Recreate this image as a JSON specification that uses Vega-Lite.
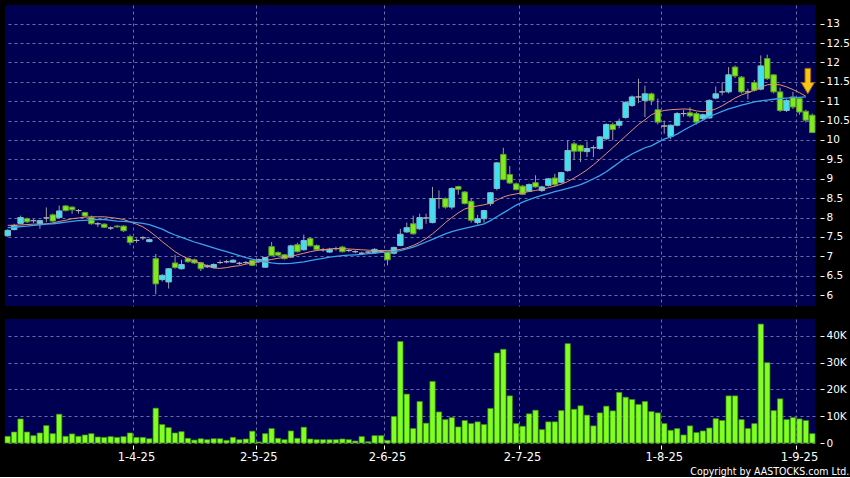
{
  "$schema": "https://vega.github.io/schema/vega-lite/v6.json",
  "background": "#000000",
  "padding": {"left": 4, "top": 5, "right": 0, "bottom": 0},
  "title": {"text": "Copyright by AASTOCKS.com Ltd.", "orient": "bottom", "anchor": "end", "frame": "bounds", "color": "#ffffff", "font": "DejaVu Sans Condensed, DejaVu Sans", "fontSize": 10.5, "fontWeight": "normal", "offset": 4},
  "datasets": {
    "bars": [
      {"date":"4-3-25","open":7.53,"high":7.70,"low":7.50,"close":7.67,"volume":2500,"ma10":7.80,"ma20":7.74},
      {"date":"5-3-25","open":7.69,"high":7.84,"low":7.67,"close":7.80,"volume":4100,"ma10":7.80,"ma20":7.75},
      {"date":"6-3-25","open":7.85,"high":8.05,"low":7.83,"close":8.00,"volume":9000,"ma10":7.81,"ma20":7.77},
      {"date":"7-3-25","open":7.97,"high":8.00,"low":7.86,"close":7.89,"volume":4100,"ma10":7.82,"ma20":7.78},
      {"date":"10-3-25","open":7.92,"high":7.96,"low":7.86,"close":7.92,"volume":2750,"ma10":7.83,"ma20":7.80},
      {"date":"11-3-25","open":7.85,"high":7.94,"low":7.71,"close":7.92,"volume":3750,"ma10":7.83,"ma20":7.81},
      {"date":"12-3-25","open":7.99,"high":8.26,"low":7.88,"close":7.99,"volume":6500,"ma10":7.84,"ma20":7.83},
      {"date":"13-3-25","open":8.07,"high":8.10,"low":7.88,"close":7.91,"volume":3500,"ma10":7.86,"ma20":7.84},
      {"date":"14-3-25","open":8.00,"high":8.31,"low":7.97,"close":8.17,"volume":10750,"ma10":7.90,"ma20":7.86},
      {"date":"17-3-25","open":8.30,"high":8.32,"low":8.16,"close":8.18,"volume":2500,"ma10":7.93,"ma20":7.88},
      {"date":"18-3-25","open":8.27,"high":8.29,"low":8.10,"close":8.20,"volume":3400,"ma10":7.97,"ma20":7.90},
      {"date":"19-3-25","open":8.18,"high":8.22,"low":8.10,"close":8.18,"volume":2500,"ma10":7.99,"ma20":7.92},
      {"date":"20-3-25","open":8.13,"high":8.15,"low":8.02,"close":8.04,"volume":3000,"ma10":8.01,"ma20":7.93},
      {"date":"21-3-25","open":8.00,"high":8.05,"low":7.82,"close":7.84,"volume":3500,"ma10":8.02,"ma20":7.94},
      {"date":"24-3-25","open":7.84,"high":7.88,"low":7.76,"close":7.84,"volume":2250,"ma10":8.02,"ma20":7.95},
      {"date":"25-3-25","open":7.83,"high":7.85,"low":7.73,"close":7.75,"volume":2100,"ma10":8.02,"ma20":7.95},
      {"date":"26-3-25","open":7.73,"high":7.77,"low":7.68,"close":7.73,"volume":2400,"ma10":8.00,"ma20":7.93},
      {"date":"27-3-25","open":7.78,"high":7.81,"low":7.74,"close":7.76,"volume":2100,"ma10":7.98,"ma20":7.91},
      {"date":"28-3-25","open":7.78,"high":7.80,"low":7.63,"close":7.66,"volume":2400,"ma10":7.95,"ma20":7.90},
      {"date":"31-3-25","open":7.51,"high":7.56,"low":7.29,"close":7.36,"volume":3750,"ma10":7.89,"ma20":7.89},
      {"date":"1-4-25","open":7.41,"high":7.46,"low":7.35,"close":7.41,"volume":2100,"ma10":7.83,"ma20":7.87},
      {"date":"2-4-25","open":7.48,"high":7.52,"low":7.42,"close":7.48,"volume":2100,"ma10":7.76,"ma20":7.85},
      {"date":"3-4-25","open":7.38,"high":7.46,"low":7.36,"close":7.43,"volume":1600,"ma10":7.65,"ma20":7.82},
      {"date":"7-4-25","open":6.94,"high":7.06,"low":6.02,"close":6.29,"volume":13000,"ma10":7.52,"ma20":7.76},
      {"date":"8-4-25","open":6.40,"high":6.54,"low":6.35,"close":6.51,"volume":6900,"ma10":7.38,"ma20":7.70},
      {"date":"9-4-25","open":6.34,"high":6.70,"low":6.17,"close":6.68,"volume":5750,"ma10":7.25,"ma20":7.62},
      {"date":"10-4-25","open":6.83,"high":7.04,"low":6.68,"close":6.71,"volume":3750,"ma10":7.12,"ma20":7.55},
      {"date":"11-4-25","open":6.68,"high":6.91,"low":6.66,"close":6.79,"volume":4250,"ma10":7.02,"ma20":7.49},
      {"date":"14-4-25","open":6.94,"high":6.97,"low":6.84,"close":6.86,"volume":1750,"ma10":6.94,"ma20":7.43},
      {"date":"15-4-25","open":6.91,"high":6.94,"low":6.80,"close":6.83,"volume":1100,"ma10":6.88,"ma20":7.37},
      {"date":"16-4-25","open":6.84,"high":6.86,"low":6.62,"close":6.68,"volume":1600,"ma10":6.82,"ma20":7.32},
      {"date":"17-4-25","open":6.73,"high":6.79,"low":6.70,"close":6.76,"volume":1250,"ma10":6.76,"ma20":7.27},
      {"date":"22-4-25","open":6.71,"high":6.82,"low":6.69,"close":6.79,"volume":1600,"ma10":6.70,"ma20":7.22},
      {"date":"23-4-25","open":6.84,"high":6.90,"low":6.80,"close":6.84,"volume":1600,"ma10":6.69,"ma20":7.17},
      {"date":"24-4-25","open":6.86,"high":6.91,"low":6.82,"close":6.86,"volume":1000,"ma10":6.71,"ma20":7.12},
      {"date":"25-4-25","open":6.85,"high":6.92,"low":6.83,"close":6.90,"volume":2100,"ma10":6.74,"ma20":7.07},
      {"date":"28-4-25","open":6.82,"high":6.86,"low":6.78,"close":6.82,"volume":1250,"ma10":6.76,"ma20":7.02},
      {"date":"29-4-25","open":6.84,"high":6.88,"low":6.80,"close":6.84,"volume":1500,"ma10":6.80,"ma20":6.97},
      {"date":"30-4-25","open":6.90,"high":6.92,"low":6.75,"close":6.77,"volume":4400,"ma10":6.83,"ma20":6.93},
      {"date":"2-5-25","open":6.86,"high":6.94,"low":6.84,"close":6.92,"volume":400,"ma10":6.86,"ma20":6.89},
      {"date":"6-5-25","open":6.72,"high":6.99,"low":6.70,"close":6.97,"volume":3500,"ma10":6.89,"ma20":6.86},
      {"date":"7-5-25","open":7.25,"high":7.37,"low":7.00,"close":7.02,"volume":5400,"ma10":6.92,"ma20":6.83},
      {"date":"8-5-25","open":7.10,"high":7.13,"low":7.00,"close":7.03,"volume":1750,"ma10":6.95,"ma20":6.81},
      {"date":"9-5-25","open":7.04,"high":7.06,"low":6.92,"close":6.94,"volume":1250,"ma10":6.97,"ma20":6.81},
      {"date":"12-5-25","open":6.98,"high":7.30,"low":6.96,"close":7.27,"volume":4500,"ma10":7.00,"ma20":6.82},
      {"date":"13-5-25","open":7.30,"high":7.35,"low":7.10,"close":7.12,"volume":1750,"ma10":7.04,"ma20":6.84},
      {"date":"14-5-25","open":7.17,"high":7.56,"low":7.15,"close":7.41,"volume":5900,"ma10":7.08,"ma20":6.86},
      {"date":"15-5-25","open":7.46,"high":7.49,"low":7.25,"close":7.27,"volume":1500,"ma10":7.12,"ma20":6.89},
      {"date":"16-5-25","open":7.28,"high":7.31,"low":7.15,"close":7.17,"volume":1250,"ma10":7.15,"ma20":6.92},
      {"date":"19-5-25","open":7.17,"high":7.22,"low":7.12,"close":7.17,"volume":1250,"ma10":7.17,"ma20":6.95},
      {"date":"20-5-25","open":7.11,"high":7.22,"low":7.09,"close":7.18,"volume":1250,"ma10":7.19,"ma20":6.98},
      {"date":"21-5-25","open":7.20,"high":7.25,"low":7.15,"close":7.20,"volume":1250,"ma10":7.20,"ma20":7.00},
      {"date":"22-5-25","open":7.24,"high":7.27,"low":7.10,"close":7.12,"volume":1500,"ma10":7.20,"ma20":7.02},
      {"date":"23-5-25","open":7.15,"high":7.19,"low":7.11,"close":7.15,"volume":1250,"ma10":7.19,"ma20":7.03},
      {"date":"26-5-25","open":7.12,"high":7.16,"low":7.08,"close":7.12,"volume":750,"ma10":7.18,"ma20":7.04},
      {"date":"27-5-25","open":7.08,"high":7.12,"low":7.04,"close":7.08,"volume":2400,"ma10":7.17,"ma20":7.05},
      {"date":"28-5-25","open":7.11,"high":7.14,"low":7.07,"close":7.11,"volume":500,"ma10":7.16,"ma20":7.07},
      {"date":"29-5-25","open":7.10,"high":7.21,"low":7.08,"close":7.18,"volume":2750,"ma10":7.15,"ma20":7.08},
      {"date":"30-5-25","open":7.13,"high":7.17,"low":7.10,"close":7.13,"volume":2750,"ma10":7.15,"ma20":7.10},
      {"date":"2-6-25","open":7.11,"high":7.13,"low":6.77,"close":6.91,"volume":1000,"ma10":7.15,"ma20":7.11},
      {"date":"3-6-25","open":7.08,"high":7.25,"low":7.05,"close":7.23,"volume":9900,"ma10":7.16,"ma20":7.12},
      {"date":"4-6-25","open":7.28,"high":7.71,"low":7.26,"close":7.57,"volume":37900,"ma10":7.18,"ma20":7.15},
      {"date":"5-6-25","open":7.63,"high":7.87,"low":7.60,"close":7.74,"volume":18250,"ma10":7.22,"ma20":7.19},
      {"date":"6-6-25","open":7.84,"high":8.05,"low":7.56,"close":7.58,"volume":5400,"ma10":7.28,"ma20":7.24},
      {"date":"9-6-25","open":7.71,"high":8.10,"low":7.68,"close":8.00,"volume":15500,"ma10":7.36,"ma20":7.30},
      {"date":"10-6-25","open":7.99,"high":8.10,"low":7.84,"close":7.99,"volume":7400,"ma10":7.46,"ma20":7.37},
      {"date":"11-6-25","open":7.87,"high":8.79,"low":7.85,"close":8.49,"volume":23000,"ma10":7.58,"ma20":7.44},
      {"date":"12-6-25","open":8.49,"high":8.70,"low":8.23,"close":8.49,"volume":11600,"ma10":7.72,"ma20":7.51},
      {"date":"13-6-25","open":8.49,"high":8.52,"low":8.23,"close":8.27,"volume":8750,"ma10":7.87,"ma20":7.58},
      {"date":"16-6-25","open":8.27,"high":8.78,"low":8.21,"close":8.75,"volume":9500,"ma10":8.00,"ma20":7.64},
      {"date":"17-6-25","open":8.80,"high":8.82,"low":8.59,"close":8.73,"volume":6000,"ma10":8.12,"ma20":7.68},
      {"date":"18-6-25","open":8.66,"high":8.68,"low":8.34,"close":8.36,"volume":8400,"ma10":8.22,"ma20":7.72},
      {"date":"19-6-25","open":8.42,"high":8.50,"low":7.87,"close":7.93,"volume":7250,"ma10":8.27,"ma20":7.76},
      {"date":"20-6-25","open":7.87,"high":8.07,"low":7.82,"close":7.97,"volume":7900,"ma10":8.30,"ma20":7.80},
      {"date":"23-6-25","open":7.97,"high":8.20,"low":7.87,"close":8.18,"volume":6900,"ma10":8.33,"ma20":7.84},
      {"date":"24-6-25","open":8.36,"high":8.66,"low":8.30,"close":8.64,"volume":12900,"ma10":8.37,"ma20":7.92},
      {"date":"25-6-25","open":8.75,"high":9.43,"low":8.70,"close":9.41,"volume":33600,"ma10":8.45,"ma20":8.02},
      {"date":"26-6-25","open":9.63,"high":9.80,"low":8.96,"close":8.98,"volume":35000,"ma10":8.53,"ma20":8.12},
      {"date":"27-6-25","open":9.11,"high":9.33,"low":8.87,"close":8.89,"volume":17600,"ma10":8.58,"ma20":8.22},
      {"date":"30-6-25","open":8.87,"high":8.90,"low":8.70,"close":8.72,"volume":7250,"ma10":8.61,"ma20":8.32},
      {"date":"2-7-25","open":8.81,"high":8.84,"low":8.58,"close":8.60,"volume":6250,"ma10":8.64,"ma20":8.40},
      {"date":"3-7-25","open":8.68,"high":8.88,"low":8.66,"close":8.85,"volume":10900,"ma10":8.67,"ma20":8.46},
      {"date":"4-7-25","open":8.90,"high":9.09,"low":8.77,"close":8.79,"volume":12250,"ma10":8.70,"ma20":8.52},
      {"date":"7-7-25","open":8.70,"high":8.82,"low":8.66,"close":8.79,"volume":5000,"ma10":8.73,"ma20":8.57},
      {"date":"8-7-25","open":8.83,"high":9.02,"low":8.80,"close":9.00,"volume":7900,"ma10":8.77,"ma20":8.62},
      {"date":"9-7-25","open":9.02,"high":9.13,"low":8.80,"close":8.85,"volume":7900,"ma10":8.81,"ma20":8.67},
      {"date":"10-7-25","open":8.91,"high":9.18,"low":8.88,"close":9.16,"volume":12100,"ma10":8.86,"ma20":8.71},
      {"date":"11-7-25","open":9.21,"high":9.99,"low":9.18,"close":9.73,"volume":37100,"ma10":8.93,"ma20":8.75},
      {"date":"14-7-25","open":9.90,"high":9.95,"low":9.50,"close":9.71,"volume":12600,"ma10":9.02,"ma20":8.80},
      {"date":"15-7-25","open":9.86,"high":9.88,"low":9.43,"close":9.71,"volume":13900,"ma10":9.12,"ma20":8.85},
      {"date":"16-7-25","open":9.70,"high":9.96,"low":9.56,"close":9.78,"volume":10400,"ma10":9.23,"ma20":8.92},
      {"date":"17-7-25","open":9.80,"high":9.86,"low":9.56,"close":9.80,"volume":6400,"ma10":9.36,"ma20":9.00},
      {"date":"18-7-25","open":9.78,"high":10.10,"low":9.75,"close":10.08,"volume":11250,"ma10":9.50,"ma20":9.08},
      {"date":"21-7-25","open":10.03,"high":10.43,"low":10.00,"close":10.40,"volume":13750,"ma10":9.65,"ma20":9.18},
      {"date":"22-7-25","open":10.40,"high":10.45,"low":9.99,"close":10.27,"volume":12000,"ma10":9.80,"ma20":9.30},
      {"date":"23-7-25","open":10.38,"high":10.55,"low":10.30,"close":10.48,"volume":18900,"ma10":9.95,"ma20":9.42},
      {"date":"24-7-25","open":10.58,"high":11.00,"low":10.55,"close":10.97,"volume":17100,"ma10":10.10,"ma20":9.54},
      {"date":"25-7-25","open":10.89,"high":11.15,"low":10.85,"close":11.11,"volume":16250,"ma10":10.25,"ma20":9.64},
      {"date":"28-7-25","open":11.11,"high":11.58,"low":10.95,"close":11.11,"volume":14400,"ma10":10.40,"ma20":9.72},
      {"date":"29-7-25","open":11.02,"high":11.40,"low":10.59,"close":11.19,"volume":15500,"ma10":10.52,"ma20":9.80},
      {"date":"30-7-25","open":11.19,"high":11.22,"low":10.90,"close":11.02,"volume":11750,"ma10":10.65,"ma20":9.85},
      {"date":"31-7-25","open":10.78,"high":11.07,"low":10.40,"close":10.46,"volume":11250,"ma10":10.72,"ma20":9.94},
      {"date":"1-8-25","open":10.36,"high":10.50,"low":10.16,"close":10.36,"volume":7250,"ma10":10.76,"ma20":10.02},
      {"date":"4-8-25","open":10.09,"high":10.40,"low":10.02,"close":10.38,"volume":4750,"ma10":10.78,"ma20":10.08},
      {"date":"5-8-25","open":10.38,"high":10.72,"low":10.35,"close":10.68,"volume":5400,"ma10":10.79,"ma20":10.15},
      {"date":"6-8-25","open":10.68,"high":10.78,"low":10.60,"close":10.68,"volume":3000,"ma10":10.80,"ma20":10.25},
      {"date":"7-8-25","open":10.70,"high":10.84,"low":10.58,"close":10.62,"volume":6400,"ma10":10.79,"ma20":10.34},
      {"date":"8-8-25","open":10.68,"high":10.72,"low":10.40,"close":10.46,"volume":3900,"ma10":10.75,"ma20":10.43},
      {"date":"11-8-25","open":10.55,"high":10.68,"low":10.50,"close":10.65,"volume":4500,"ma10":10.73,"ma20":10.51},
      {"date":"12-8-25","open":10.57,"high":11.05,"low":10.55,"close":11.02,"volume":5600,"ma10":10.75,"ma20":10.60},
      {"date":"13-8-25","open":11.08,"high":11.38,"low":11.05,"close":11.19,"volume":9100,"ma10":10.80,"ma20":10.67},
      {"date":"14-8-25","open":11.24,"high":11.49,"low":11.15,"close":11.24,"volume":8400,"ma10":10.88,"ma20":10.74},
      {"date":"15-8-25","open":11.24,"high":11.88,"low":11.20,"close":11.68,"volume":17600,"ma10":10.98,"ma20":10.80},
      {"date":"18-8-25","open":11.88,"high":11.92,"low":11.60,"close":11.65,"volume":17600,"ma10":11.08,"ma20":10.85},
      {"date":"19-8-25","open":11.62,"high":11.65,"low":11.20,"close":11.24,"volume":8750,"ma10":11.16,"ma20":10.90},
      {"date":"20-8-25","open":11.24,"high":11.32,"low":11.05,"close":11.24,"volume":5400,"ma10":11.22,"ma20":10.94},
      {"date":"21-8-25","open":11.48,"high":11.55,"low":11.25,"close":11.28,"volume":7250,"ma10":11.28,"ma20":10.98},
      {"date":"22-8-25","open":11.31,"high":12.18,"low":11.28,"close":11.91,"volume":44400,"ma10":11.36,"ma20":11.01},
      {"date":"25-8-25","open":12.10,"high":12.20,"low":11.55,"close":11.58,"volume":30000,"ma10":11.42,"ma20":11.03},
      {"date":"26-8-25","open":11.68,"high":11.70,"low":11.20,"close":11.24,"volume":12100,"ma10":11.44,"ma20":11.05},
      {"date":"27-8-25","open":11.24,"high":11.35,"low":10.72,"close":10.76,"volume":16500,"ma10":11.42,"ma20":11.07},
      {"date":"28-8-25","open":10.76,"high":11.05,"low":10.72,"close":11.02,"volume":8750,"ma10":11.37,"ma20":11.08},
      {"date":"29-8-25","open":11.11,"high":11.24,"low":10.80,"close":10.85,"volume":9500,"ma10":11.30,"ma20":11.09},
      {"date":"1-9-25","open":11.07,"high":11.10,"low":10.65,"close":10.72,"volume":9000,"ma10":11.22,"ma20":11.10},
      {"date":"2-9-25","open":10.74,"high":10.78,"low":10.45,"close":10.51,"volume":8400,"ma10":11.13,"ma20":11.11},
      {"date":"3-9-25","open":10.64,"high":10.68,"low":10.18,"close":10.19,"volume":3500}
    ]
  },
  "spacing": 13,
  "vconcat": [
    {
      "width": 810,
      "height": 301,
      "data": {"name": "bars"},
      "encoding": {
        "x": {
          "field": "date", "type": "ordinal", "sort": null,
          "scale": {"paddingInner": 0.15, "paddingOuter": 0},
          "axis": {"title": null, "labels": false, "ticks": false, "domain": false, "grid": true, "bandPosition": 0,
                   "values": ["1-4-25", "2-5-25", "2-6-25", "2-7-25", "1-8-25", "1-9-25"]}
        }
      },
      "layer": [
        {
          "mark": {"type": "rule", "color": "#9c9c9c", "strokeWidth": 1},
          "encoding": {
            "y": {"field": "low", "type": "quantitative",
                  "scale": {"domain": [5.72, 13.48], "nice": false, "zero": false},
                  "axis": {"orient": "right", "title": null, "values": [6, 6.5, 7, 7.5, 8, 8.5, 9, 9.5, 10, 10.5, 11, 11.5, 12, 12.5, 13],
                           "format": "~g", "offset": 5, "tickSize": 4, "labelPadding": 2, "labelOverlap": false, "labelFlush": false}},
            "y2": {"field": "high"}
          }
        },
        {
          "mark": {"type": "bar", "strokeWidth": 1},
          "encoding": {
            "y": {"field": "open", "type": "quantitative", "scale": {"domain": [5.72, 13.48], "nice": false, "zero": false},
                  "axis": {"orient": "right", "title": null, "values": [6, 6.5, 7, 7.5, 8, 8.5, 9, 9.5, 10, 10.5, 11, 11.5, 12, 12.5, 13],
                           "format": "~g", "offset": 5, "tickSize": 4, "labelPadding": 2, "labelOverlap": false, "labelFlush": false}},
            "y2": {"field": "close"},
            "fill": {"condition": [{"test": "datum.close > datum.open", "value": "#3ee0f2"}, {"test": "datum.close == datum.open", "value": "#a4a4a4"}], "value": "#80ea20"},
            "stroke": {"condition": [{"test": "datum.close > datum.open", "value": "#8ab8c4"}, {"test": "datum.close == datum.open", "value": "#b0b0b0"}], "value": "#5e9a2c"}
          }
        },
        {
          "mark": {"type": "line", "color": "#e6906c", "strokeWidth": 1},
          "encoding": {"y": {"field": "ma10", "type": "quantitative", "scale": {"domain": [5.72, 13.48], "nice": false, "zero": false},
                  "axis": {"orient": "right", "title": null, "values": [6, 6.5, 7, 7.5, 8, 8.5, 9, 9.5, 10, 10.5, 11, 11.5, 12, 12.5, 13],
                           "format": "~g", "offset": 5, "tickSize": 4, "labelPadding": 2, "labelOverlap": false, "labelFlush": false}}}
        },
        {
          "mark": {"type": "line", "color": "#3aa2e6", "strokeWidth": 1.3},
          "encoding": {"y": {"field": "ma20", "type": "quantitative", "scale": {"domain": [5.72, 13.48], "nice": false, "zero": false},
                  "axis": {"orient": "right", "title": null, "values": [6, 6.5, 7, 7.5, 8, 8.5, 9, 9.5, 10, 10.5, 11, 11.5, 12, 12.5, 13],
                           "format": "~g", "offset": 5, "tickSize": 4, "labelPadding": 2, "labelOverlap": false, "labelFlush": false}}}
        },
        {
          "transform": [{"filter": "datum.date == '2-9-25'"}],
          "mark": {"type": "point", "filled": true, "shape": "M-0.22,-1L0.22,-1L0.22,0.12L0.52,0.12L0,1L-0.52,0.12L-0.22,0.12Z", "size": 640, "fill": "#f7c41a", "stroke": "#a86c00", "strokeWidth": 1, "opacity": 1, "xOffset": 2},
          "encoding": {"y": {"datum": 11.52, "type": "quantitative", "scale": {"domain": [5.72, 13.48], "nice": false, "zero": false},
                  "axis": {"orient": "right", "title": null, "values": [6, 6.5, 7, 7.5, 8, 8.5, 9, 9.5, 10, 10.5, 11, 11.5, 12, 12.5, 13],
                           "format": "~g", "offset": 5, "tickSize": 4, "labelPadding": 2, "labelOverlap": false, "labelFlush": false}}}
        }
      ]
    },
    {
      "width": 810,
      "height": 124,
      "data": {"name": "bars"},
      "mark": {"type": "bar", "fill": "#80ff20", "stroke": "#3e8c12", "strokeWidth": 0.7},
      "encoding": {
        "x": {
          "field": "date", "type": "ordinal", "sort": null,
          "scale": {"paddingInner": 0.17, "paddingOuter": 0},
          "axis": {"title": null, "grid": true, "bandPosition": 0, "labelAngle": 0, "offset": 2, "tickSize": 4, "labelPadding": 2, "labelFontSize": 11.5,
                   "values": ["1-4-25", "2-5-25", "2-6-25", "2-7-25", "1-8-25", "1-9-25"]}
        },
        "y": {
          "field": "volume", "type": "quantitative",
          "scale": {"domain": [0, 46300], "nice": false},
          "axis": {"orient": "right", "title": null, "values": [0, 10000, 20000, 30000, 40000],
                   "labelExpr": "datum.value == 0 ? '0' : format(datum.value / 1000, 'd') + 'K'",
                   "offset": 5, "tickSize": 4, "labelPadding": 2, "labelOverlap": false, "labelFlush": false}
        }
      }
    }
  ],
  "config": {
    "view": {"fill": "#000052", "stroke": null},
    "axis": {
      "labelColor": "#ffffff", "tickColor": "#ffffff", "domain": false,
      "gridColor": "#6c6ca4", "gridDash": [3, 3], "gridWidth": 1, "gridOpacity": 1,
      "labelFont": "DejaVu Sans", "labelFontSize": 10.5
    }
  }
}
